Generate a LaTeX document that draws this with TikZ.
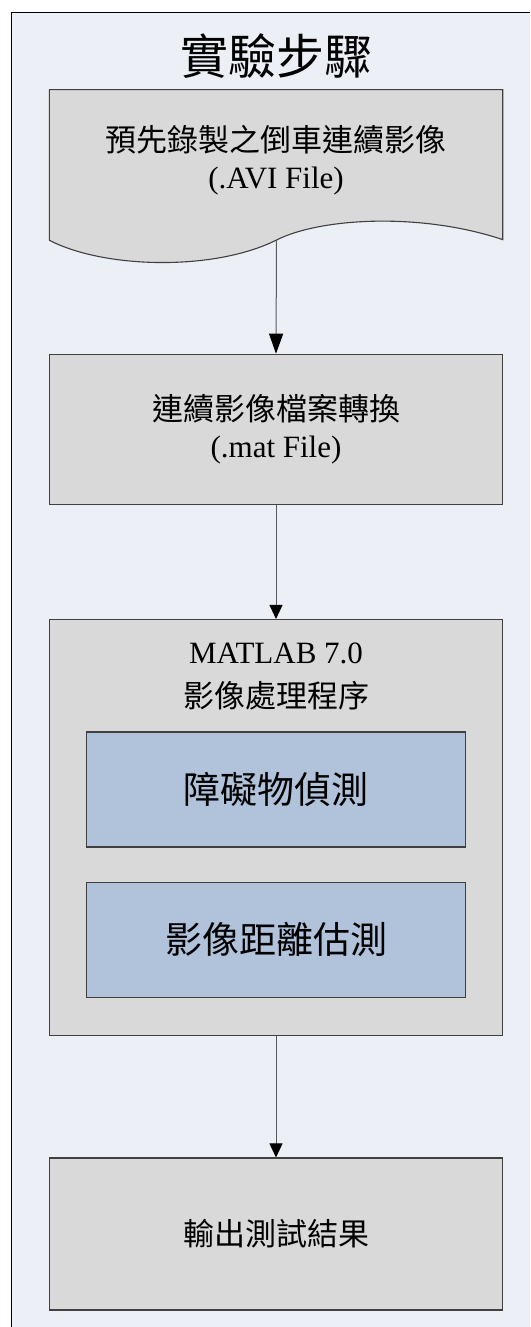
\documentclass[tikz,border=0pt]{standalone}
\usepackage{fontspec}
\setmainfont{Liberation Serif}
\newfontfamily\cjk{Noto Sans CJK TC}
\usetikzlibrary{arrows.meta}
\definecolor{bgc}{HTML}{ECEFF5}
\definecolor{boxc}{HTML}{D9D9D9}
\definecolor{innc}{HTML}{B0C3DB}
\definecolor{edgec}{HTML}{404040}
\definecolor{linec}{HTML}{595959}
\tikzset{
  box/.style={rectangle, draw=edgec, fill=boxc, line width=1.1pt, inner sep=0pt,
    minimum width=453.3pt, align=center, font=\fontsize{31}{37}\selectfont},
  innbox/.style={rectangle, draw=edgec, fill=innc, line width=1.1pt, inner sep=0pt,
    minimum width=379pt, minimum height=115pt, font=\cjk\fontsize{37}{40}\selectfont},
  txt/.style={inner sep=0pt, align=center, font=\fontsize{31}{37}\selectfont},
  arr/.style={draw=linec, line width=1pt, -{Triangle[length=14pt,width=13pt,color=black]}}
}
\begin{document}
\begin{tikzpicture}[x=1pt,y=-1pt]
\useasboundingbox (0,0) rectangle (530,1327);
\fill[bgc] (11.8,12.3) rectangle (530,1327);
\draw[black, line width=1pt] (11.8,1327) -- (11.8,12.3) -- (530,12.3);

\node[inner sep=0pt, font=\cjk\fontsize{48}{48}\selectfont] (title) at (276,56) {實驗步驟};

% document shape
\draw[fill=boxc, draw=edgec, line width=1.1pt]
  (49.4,89.6) -- (502.7,89.6) -- (502.7,239.6)
  .. controls (420,212) and (320,218) .. (276.5,240)
  .. controls (215,271) and (105,269) .. (49.4,240.3) -- cycle;
\node[txt] (d1) at (276,160.5) {{\cjk 預先錄製之倒車連續影像}\\(.AVI File)};
\coordinate (d1b) at (276.5,240);

\node[box, minimum height=150.3pt] (b2) at (276,429.4) {{\cjk 連續影像檔案轉換}\\(.mat File)};

\node[box, minimum height=416pt] (b3) at (276,827.5) {};
\node[txt] (m1) at (276,653.5) {MATLAB 7.0};
\node[txt, font=\cjk\fontsize{31}{37}\selectfont] (m2) at (276,696) {影像處理程序};
\node[innbox] (i1) at (276,789.5) {障礙物偵測};
\node[innbox] (i2) at (276,939.8) {影像距離估測};

\node[box, minimum height=152pt, font=\cjk\fontsize{31}{37}\selectfont] (b4) at (276,1234) {輸出測試結果};

\draw[arr, -{Triangle[length=20pt,width=14pt,color=black]}] (d1b) -- (b2.north);
\draw[arr] (b2.south) -- (b3.north);
\draw[arr] (b3.south) -- (b4.north);
\end{tikzpicture}
\end{document}
